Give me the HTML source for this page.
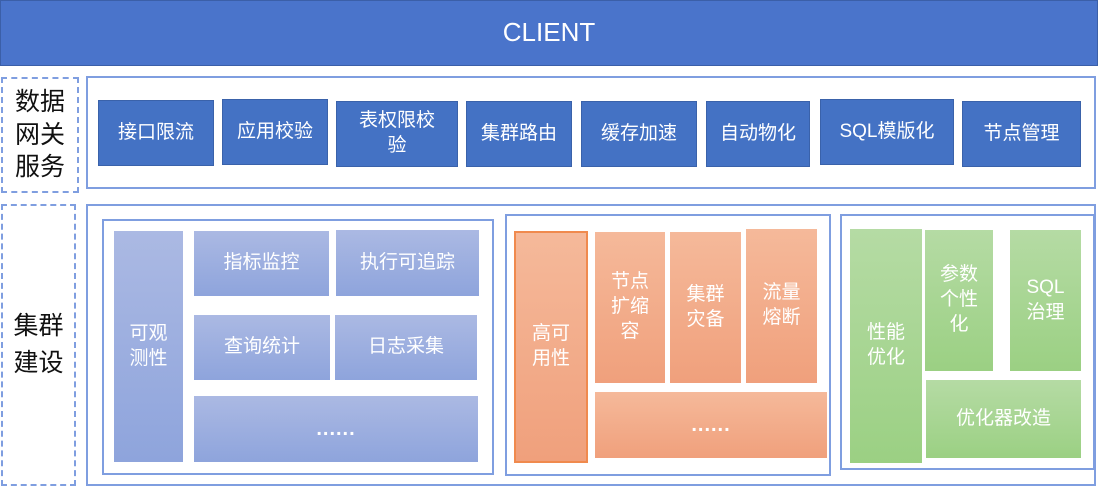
<!DOCTYPE html>
<html><head><meta charset="utf-8"><style>
body{margin:0;width:1098px;height:487px;background:#fff;position:relative;overflow:hidden;font-family:"Liberation Sans","Noto Sans CJK SC",sans-serif}
div{position:absolute;box-sizing:border-box}
.c{display:flex;align-items:center;justify-content:center;text-align:center;color:#fff;line-height:1.3}
.g{background:#4472c4;border:1px solid #3a62aa;font-size:19px}
.b{background:linear-gradient(#abb9e3,#8ea4dc);font-size:19px}
.o{background:linear-gradient(#f5b99a,#f0a07c);font-size:19px}
.n{background:linear-gradient(#b5dba4,#9bd083);font-size:19px}
.box{border:2px solid #7f9ee0}
.d{font-weight:bold;font-size:20px;letter-spacing:1px}
</style></head><body>
<div class="c" style="left:0;top:0;width:1098px;height:66px;background:#4a74cb;border:1px solid #3b5fa8;font-size:26px">CLIENT</div>

<div class="c" style="left:1px;top:77px;width:78px;height:116px;border:2px dashed #7f9ee0;color:#111;font-size:25px;line-height:1.3">数据<br>网关<br>服务</div>
<div class="c" style="left:1px;top:204px;width:75px;height:282px;border:2px dashed #7f9ee0;color:#111;font-size:25px;line-height:1.5">集群<br>建设</div>

<div class="box" style="left:86px;top:76px;width:1010px;height:113px"></div>
<div class="c g" style="left:98px;top:100px;width:116px;height:66px">接口限流</div>
<div class="c g" style="left:222px;top:99px;width:106px;height:66px">应用校验</div>
<div class="c g" style="left:336px;top:101px;width:122px;height:66px">表权限校<br>验</div>
<div class="c g" style="left:466px;top:101px;width:106px;height:66px">集群路由</div>
<div class="c g" style="left:581px;top:101px;width:116px;height:66px">缓存加速</div>
<div class="c g" style="left:706px;top:101px;width:104px;height:66px">自动物化</div>
<div class="c g" style="left:820px;top:99px;width:134px;height:66px">SQL模版化</div>
<div class="c g" style="left:962px;top:101px;width:119px;height:66px">节点管理</div>

<div class="box" style="left:86px;top:204px;width:1010px;height:282px"></div>
<div class="box" style="left:102px;top:219px;width:392px;height:256px"></div>
<div class="c b" style="left:114px;top:231px;width:69px;height:231px">可观<br>测性</div>
<div class="c b" style="left:194px;top:231px;width:135px;height:65px">指标监控</div>
<div class="c b" style="left:336px;top:230px;width:143px;height:66px">执行可追踪</div>
<div class="c b" style="left:194px;top:315px;width:136px;height:65px">查询统计</div>
<div class="c b" style="left:335px;top:315px;width:142px;height:65px">日志采集</div>
<div class="c b d" style="left:194px;top:396px;width:284px;height:66px">......</div>

<div class="box" style="left:505px;top:214px;width:326px;height:262px"></div>
<div class="c o" style="left:514px;top:231px;width:74px;height:232px;border:2px solid #f08a4e">高可<br>用性</div>
<div class="c o" style="left:595px;top:232px;width:70px;height:151px">节点<br>扩缩<br>容</div>
<div class="c o" style="left:670px;top:232px;width:71px;height:151px">集群<br>灾备</div>
<div class="c o" style="left:746px;top:229px;width:71px;height:154px">流量<br>熔断</div>
<div class="c o d" style="left:595px;top:392px;width:232px;height:66px">......</div>

<div class="box" style="left:840px;top:214px;width:255px;height:256px"></div>
<div class="c n" style="left:850px;top:229px;width:72px;height:234px">性能<br>优化</div>
<div class="c n" style="left:925px;top:230px;width:68px;height:141px">参数<br>个性<br>化</div>
<div class="c n" style="left:1010px;top:230px;width:71px;height:141px">SQL<br>治理</div>
<div class="c n" style="left:926px;top:380px;width:155px;height:78px">优化器改造</div>
</body></html>
